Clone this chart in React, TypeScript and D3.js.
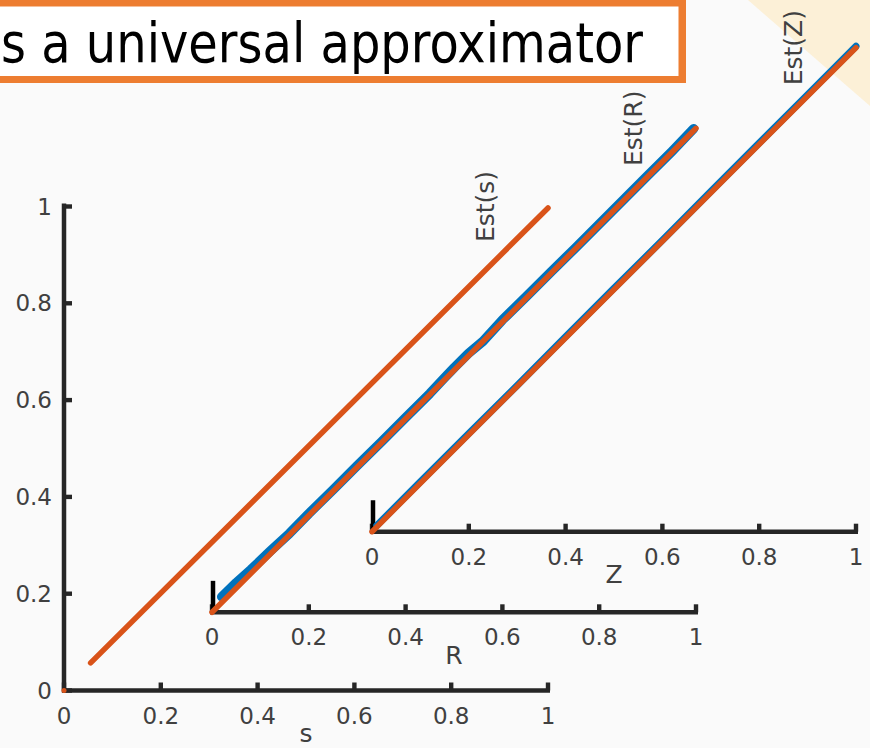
import React from "react";
import * as d3 from "d3";

const W = 870;
const H = 748;

const tickValues = [0, 0.2, 0.4, 0.6, 0.8, 1];
const tickLabels = ["0", "0.2", "0.4", "0.6", "0.8", "1"];

const titleText = "s a universal approximator";
const panelNames = ["s", "R", "Z"];
const estLabels = ["Est(s)", "Est(R)", "Est(Z)"];

// true (red) curves
const sRedX = [0.055, 1.0];
const sRedY = [0.057, 0.997];
const rRedX = [0.0, 1.0];
const rRedY = [0.0, 1.0];
const zRedX = [0.0, 1.0];
const zRedY = [0.0, 1.0];

// estimated (blue) curves
const rBlueX = [0.02, 0.05, 0.08, 0.12, 0.16, 0.2, 0.25, 0.3, 0.35, 0.4, 0.45, 0.48, 0.5, 0.53, 0.56, 0.6, 0.65, 0.7, 0.75, 0.8, 0.85, 0.9, 0.95, 0.995];
const rBlueY = [0.032, 0.061, 0.088, 0.126, 0.163, 0.204, 0.253, 0.303, 0.352, 0.402, 0.452, 0.484, 0.505, 0.535, 0.56, 0.604, 0.653, 0.703, 0.752, 0.802, 0.852, 0.902, 0.952, 0.999];
const zBlueX = [0.01, 0.1, 0.2, 0.3, 0.4, 0.5, 0.6, 0.7, 0.8, 0.9, 1.0];
const zBlueY = [0.013, 0.103, 0.203, 0.302, 0.403, 0.503, 0.602, 0.703, 0.803, 0.903, 1.003];

const panelOrigins: [number, number][] = [
  [64, 690.5],
  [212, 612.3],
  [372, 531.7],
];
const PW = 484;
const PH = 484;

const AXIS = "#262626";
const TXT = "#404040";
const RED = "#D95319";
const BLUE = "#0072BD";
const FONT = "DejaVu Sans, sans-serif";

function zip(xs: number[], ys: number[]): [number, number][] {
  return xs.map((x, i) => [x, ys[i]]);
}

function Panel({ idx }: { idx: number }) {
  const [ox, oy] = panelOrigins[idx];
  const x = d3.scaleLinear().domain([0, 1]).range([ox, ox + PW]);
  const y = d3.scaleLinear().domain([0, 1]).range([oy, oy - PH]);
  const line = d3
    .line<[number, number]>()
    .x((d) => x(d[0]))
    .y((d) => y(d[1]))
    .curve(d3.curveLinear);
  const red = idx === 0 ? zip(sRedX, sRedY) : idx === 1 ? zip(rRedX, rRedY) : zip(zRedX, zRedY);
  const blue = idx === 1 ? zip(rBlueX, rBlueY) : idx === 2 ? zip(zBlueX, zBlueY) : null;
  return (
    <g>
      {/* x axis */}
      <line x1={x(0) - 2} x2={x(1) + 2} y1={y(0)} y2={y(0)} stroke={AXIS} strokeWidth={4.5} />
      {tickValues.map((t, i) => (
        <rect key={"xt" + i} x={x(t) - 2.2} y={y(0) - 8} width={4.4} height={8} fill={AXIS} />
      ))}
      {tickValues.map((t, i) => (
        <text
          key={"xl" + i}
          x={x(t)}
          y={y(0) + 25}
          textAnchor="middle"
          dominantBaseline="central"
          fontFamily={FONT}
          fontSize={23}
          fill={TXT}
        >
          {tickLabels[i]}
        </text>
      ))}
      <text
        x={(x(0) + x(1)) / 2}
        y={y(0) + 43}
        textAnchor="middle"
        dominantBaseline="central"
        fontFamily={FONT}
        fontSize={25}
        fill={TXT}
      >
        {panelNames[idx]}
      </text>
      {/* y axis */}
      {idx === 0 ? (
        <g>
          <line x1={x(0)} x2={x(0)} y1={y(0) + 2} y2={y(1) - 3} stroke={AXIS} strokeWidth={4.5} />
          {tickValues.map((t, i) => (
            <rect key={"yt" + i} x={x(0)} y={y(t) - 2.2} width={8} height={4.4} fill={AXIS} />
          ))}
          {tickValues.map((t, i) => (
            <text
              key={"yl" + i}
              x={x(0) - 12}
              y={y(t)}
              textAnchor="end"
              dominantBaseline="central"
              fontFamily={FONT}
              fontSize={23}
              fill={TXT}
            >
              {tickLabels[i]}
            </text>
          ))}
        </g>
      ) : (
        <line x1={x(0) + 1} x2={x(0) + 1} y1={y(0)} y2={y(0.065)} stroke="#000" strokeWidth={4.5} />
      )}
      {/* curves */}
      {blue && (
        <path d={line(blue) || ""} fill="none" stroke={BLUE} strokeWidth={idx === 1 ? 9.5 : 7} strokeLinecap="round" strokeLinejoin="round" />
      )}
      <path d={line(red) || ""} fill="none" stroke={RED} strokeWidth={5.5} strokeLinecap="round" />
      {idx === 0 && <circle cx={x(0)} cy={y(0)} r={2.5} fill={RED} />}
      <text
        transform={`translate(${x(0.87)},${y(1.0)}) rotate(-90)`}
        textAnchor="middle"
        dominantBaseline="central"
        fontFamily={FONT}
        fontSize={25}
        fill={TXT}
      >
        {estLabels[idx]}
      </text>
    </g>
  );
}

export default function App() {
  return (
    <div style={{ position: "fixed", left: 0, top: 0, width: W, height: H }}>
      <svg width={W} height={H} viewBox={`0 0 ${W} ${H}`} style={{ display: "block" }}>
        <rect x={0} y={0} width={W} height={H} fill="#fafafa" />
        <polygon points={`748,0 ${W},0 ${W},106`} fill="#fcf0d7" />
        {/* title box */}
        <rect x={-10} y={-10} width={696} height={93} fill="#ED7D31" />
        <rect x={-10} y={6.5} width={688.5} height={69.5} fill="#ffffff" />
        <text
          x={1}
          y={62}
          fontFamily={FONT}
          fontSize={55}
          textLength={642}
          lengthAdjust="spacingAndGlyphs"
          fill="#000"
        >
          {titleText}
        </text>
        <Panel idx={0} />
        <Panel idx={1} />
        <Panel idx={2} />
      </svg>
    </div>
  );
}
